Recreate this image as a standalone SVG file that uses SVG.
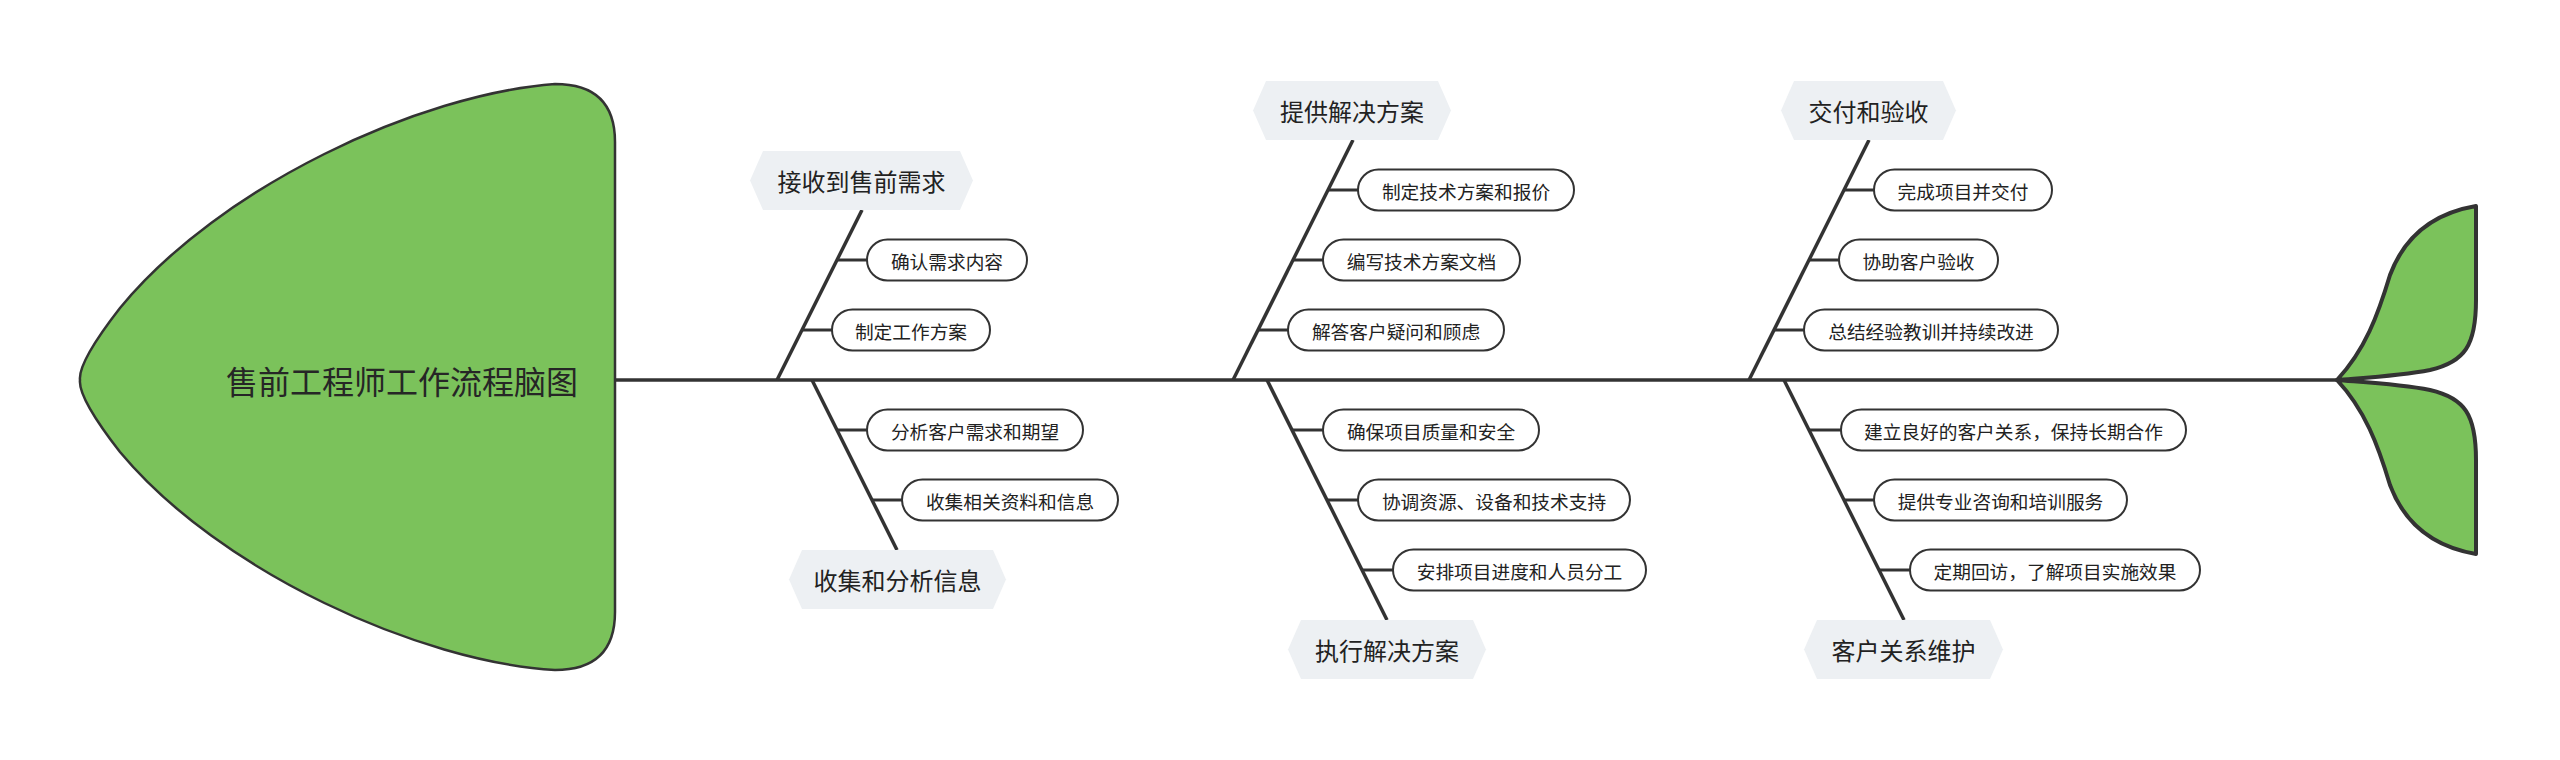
<svg xmlns="http://www.w3.org/2000/svg" width="2560" height="760" viewBox="0 0 2560 760">
<style>
.ln{stroke:#333;stroke-width:3.5;fill:none;stroke-linecap:butt}
.sub{stroke:#333;stroke-width:3;fill:none}
.pill{fill:#fff;stroke:#333;stroke-width:2}
.hex{fill:#edf0f3;stroke:none}
.fish{fill:#7bc25b;stroke:#333;stroke-linejoin:round}
.pt{font-family:"Noto Sans CJK SC","Noto Sans",sans-serif;font-size:18.7px;fill:#222;text-anchor:middle;dominant-baseline:central}
.ht{font-family:"Noto Sans CJK SC","Noto Sans",sans-serif;font-size:24px;fill:#222;text-anchor:middle;dominant-baseline:central}
.tt{font-family:"Noto Sans CJK SC","Noto Sans",sans-serif;font-size:32px;fill:#262626;text-anchor:middle;dominant-baseline:central}
</style>
<rect width="2560" height="760" fill="#fff"/>
<g id="head">
<path class="fish" stroke-width="2.5" d="M615,142 Q615,84 555,84 C420,94 220,186 120,308 Q78,362 80,380 Q78,398 120,452 C220,572 420,662 555,670 Q615,670 615,612 Z"/>
<text class="tt" x="402" y="380">售前工程师工作流程脑图</text>
</g>
<g id="tail">
<path class="fish" stroke-width="4" d="M2337,380 C2365,350 2378,315 2390,275 C2405,235 2435,213 2476,206 L2476,300 C2476,345 2465,362 2430,370 C2400,376 2360,378 2337,380 Z"/>
<path class="fish" stroke-width="4" d="M2337,380 C2365,410 2378,445 2390,485 C2405,525 2435,547 2476,554 L2476,460 C2476,415 2465,398 2430,390 C2400,384 2360,382 2337,380 Z"/>
</g>
<g id="connectors">
<line class="ln" x1="615" y1="380" x2="2339" y2="380" stroke-width="4"/>
<line class="ln" x1="777" y1="380" x2="862" y2="210"/>
<line class="sub" x1="837" y1="260" x2="867" y2="260"/>
<line class="sub" x1="802" y1="330" x2="832" y2="330"/>
<line class="ln" x1="812" y1="380" x2="897" y2="550"/>
<line class="sub" x1="837" y1="430" x2="867" y2="430"/>
<line class="sub" x1="872" y1="500" x2="902" y2="500"/>
<line class="ln" x1="1233" y1="380" x2="1353" y2="140"/>
<line class="sub" x1="1328" y1="190" x2="1358" y2="190"/>
<line class="sub" x1="1293" y1="260" x2="1323" y2="260"/>
<line class="sub" x1="1258" y1="330" x2="1288" y2="330"/>
<line class="ln" x1="1267" y1="380" x2="1387" y2="620"/>
<line class="sub" x1="1292" y1="430" x2="1323" y2="430"/>
<line class="sub" x1="1327" y1="500" x2="1358" y2="500"/>
<line class="sub" x1="1362" y1="570" x2="1393" y2="570"/>
<line class="ln" x1="1749" y1="380" x2="1869" y2="140"/>
<line class="sub" x1="1844" y1="190" x2="1874" y2="190"/>
<line class="sub" x1="1809" y1="260" x2="1839" y2="260"/>
<line class="sub" x1="1774" y1="330" x2="1804" y2="330"/>
<line class="ln" x1="1784" y1="380" x2="1904" y2="620"/>
<line class="sub" x1="1809" y1="430" x2="1841" y2="430"/>
<line class="sub" x1="1844" y1="500" x2="1874" y2="500"/>
<line class="sub" x1="1879" y1="570" x2="1910" y2="570"/>
</g>
<g id="b1">
<polygon class="hex" points="763,151 960,151 973,180.5 960,210 763,210 750,180.5"/>
<text class="ht" x="861.5" y="180.5">接收到售前需求</text>
</g>
<g id="b1-1"><rect class="pill" x="867" y="239.5" width="160" height="41" rx="20.5"/><text class="pt" x="947" y="260">确认需求内容</text></g>
<g id="b1-2"><rect class="pill" x="832" y="309.5" width="158" height="41" rx="20.5"/><text class="pt" x="911" y="330">制定工作方案</text></g>
<g id="b2">
<polygon class="hex" points="802,550 993,550 1006,579.5 993,609 802,609 789,579.5"/>
<text class="ht" x="897.5" y="579.5">收集和分析信息</text>
</g>
<g id="b2-1"><rect class="pill" x="867" y="409.5" width="216" height="41" rx="20.5"/><text class="pt" x="975" y="430">分析客户需求和期望</text></g>
<g id="b2-2"><rect class="pill" x="902" y="479.5" width="216" height="41" rx="20.5"/><text class="pt" x="1010" y="500">收集相关资料和信息</text></g>
<g id="b3">
<polygon class="hex" points="1266,81 1438,81 1451,110.5 1438,140 1266,140 1253,110.5"/>
<text class="ht" x="1352" y="110.5">提供解决方案</text>
</g>
<g id="b3-1"><rect class="pill" x="1358" y="169.5" width="216" height="41" rx="20.5"/><text class="pt" x="1466" y="190">制定技术方案和报价</text></g>
<g id="b3-2"><rect class="pill" x="1323" y="239.5" width="197" height="41" rx="20.5"/><text class="pt" x="1421.5" y="260">编写技术方案文档</text></g>
<g id="b3-3"><rect class="pill" x="1288" y="309.5" width="216" height="41" rx="20.5"/><text class="pt" x="1396" y="330">解答客户疑问和顾虑</text></g>
<g id="b4">
<polygon class="hex" points="1301,620 1473,620 1486,649.5 1473,679 1301,679 1288,649.5"/>
<text class="ht" x="1387" y="649.5">执行解决方案</text>
</g>
<g id="b4-1"><rect class="pill" x="1323" y="409.5" width="216" height="41" rx="20.5"/><text class="pt" x="1431" y="430">确保项目质量和安全</text></g>
<g id="b4-2"><rect class="pill" x="1358" y="479.5" width="272" height="41" rx="20.5"/><text class="pt" x="1494" y="500">协调资源、设备和技术支持</text></g>
<g id="b4-3"><rect class="pill" x="1393" y="549.5" width="253" height="41" rx="20.5"/><text class="pt" x="1519.5" y="570">安排项目进度和人员分工</text></g>
<g id="b5">
<polygon class="hex" points="1794,81 1943,81 1956,110.5 1943,140 1794,140 1781,110.5"/>
<text class="ht" x="1868.5" y="110.5">交付和验收</text>
</g>
<g id="b5-1"><rect class="pill" x="1874" y="169.5" width="178" height="41" rx="20.5"/><text class="pt" x="1963" y="190">完成项目并交付</text></g>
<g id="b5-2"><rect class="pill" x="1839" y="239.5" width="159" height="41" rx="20.5"/><text class="pt" x="1918.5" y="260">协助客户验收</text></g>
<g id="b5-3"><rect class="pill" x="1804" y="309.5" width="254" height="41" rx="20.5"/><text class="pt" x="1931" y="330">总结经验教训并持续改进</text></g>
<g id="b6">
<polygon class="hex" points="1817,620 1990,620 2003,649.5 1990,679 1817,679 1804,649.5"/>
<text class="ht" x="1903.5" y="649.5">客户关系维护</text>
</g>
<g id="b6-1"><rect class="pill" x="1841" y="409.5" width="345" height="41" rx="20.5"/><text class="pt" x="2013.5" y="430">建立良好的客户关系，保持长期合作</text></g>
<g id="b6-2"><rect class="pill" x="1874" y="479.5" width="253" height="41" rx="20.5"/><text class="pt" x="2000.5" y="500">提供专业咨询和培训服务</text></g>
<g id="b6-3"><rect class="pill" x="1910" y="549.5" width="290" height="41" rx="20.5"/><text class="pt" x="2055" y="570">定期回访，了解项目实施效果</text></g>
</svg>
